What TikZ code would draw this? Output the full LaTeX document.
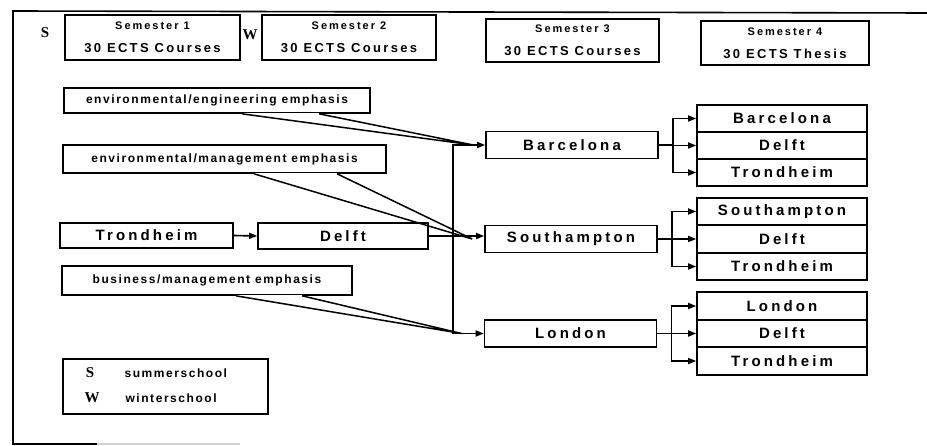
\documentclass[tikz,border=0pt]{standalone}
\usepackage{fontspec}
\setmainfont{Liberation Sans}
\newfontfamily\spacedsf[LetterSpace=21]{Liberation Sans}
\newfontfamily\semsf[LetterSpace=18]{Liberation Sans}
\newfontfamily\emphsf[LetterSpace=13]{Liberation Sans}
\newfontfamily\letterrm{Liberation Serif}
\usetikzlibrary{arrows.meta}

\begin{document}
\begin{tikzpicture}[x=1pt,y=-1pt,
  box/.style={draw,line width=1.7pt,inner sep=0pt},
  place/.style={box,minimum width=172pt,minimum height=27pt,
    font=\spacedsf\bfseries\fontsize{15}{17}\selectfont},
  sem/.style={box,align=center,font=\semsf\bfseries\fontsize{13}{23}\selectfont},
  emph/.style={box,font=\emphsf\bfseries\fontsize{12}{14}\selectfont},
  letter/.style={font=\letterrm\bfseries\fontsize{15}{17}\selectfont},
  arr/.style={line width=1.6pt,-{Triangle[length=8pt,width=6pt]}},
  tail/.style={line width=1.5pt}]
\useasboundingbox (0,0) rectangle (927,446);

% frame
\draw[line width=1.6pt] (927,13) -- (13,11) -- (13,444) -- (97,444);
\draw[gray!35,line width=1.6pt] (97,444) -- (240,444);

% semesters
\node[letter] (sumS) at (45,33) {S};
\node[sem,minimum width=175pt,minimum height=45pt] (sem1) at (152.5,37.5)
  {{\fontsize{11}{23}\selectfont Semester 1}\\30 ECTS Courses};
\node[letter] (winW) at (250,35) {W};
\node[sem,minimum width=174pt,minimum height=45pt] (sem2) at (349,37.5)
  {{\fontsize{11}{23}\selectfont Semester 2}\\30 ECTS Courses};
\node[sem,minimum width=173pt,minimum height=43pt] (sem3) at (572.5,40.5)
  {{\fontsize{11}{23}\selectfont Semester 3}\\30 ECTS Courses};
\node[sem,minimum width=168pt,minimum height=44pt] (sem4) at (785,43)
  {{\fontsize{11}{23}\selectfont Semester 4}\\30 ECTS Thesis};

% first year
\node[place,minimum width=173pt,minimum height=25pt] (trd) at (146.5,235.5) {Trondheim};
\node[place,minimum width=170pt,minimum height=26pt] (dlf) at (343,236) {Delft};

% emphasis
\node[emph,minimum width=306pt,minimum height=25pt] (eng) at (217,100.5) {environmental/engineering emphasis};
\node[emph,minimum width=323pt,minimum height=28pt] (mgt) at (224.5,159) {environmental/management emphasis};
\node[emph,minimum width=290pt,minimum height=29pt] (bus) at (207,280.5) {business/management emphasis};

% semester 3
\node[place] (bcn) at (572,145) {Barcelona};
\node[place] (sot) at (571,239) {Southampton};
\node[place] (lon) at (570.5,333.5) {London};

% semester 4
\node[place,minimum width=170pt] (bcnA) at (782,118.5) {Barcelona};
\node[place,minimum width=170pt] (bcnB) at (782,145.5) {Delft};
\node[place,minimum width=170pt] (bcnC) at (782,172.5) {Trondheim};
\node[place,minimum width=170pt,minimum height=27.5pt] (sotA) at (782,211.5) {Southampton};
\node[place,minimum width=170pt,minimum height=27.5pt] (sotB) at (782,239) {Delft};
\node[place,minimum width=170pt,minimum height=27.5pt] (sotC) at (782,266.5) {Trondheim};
\node[place,minimum width=170pt,minimum height=27.5pt] (lonA) at (782,306) {London};
\node[place,minimum width=170pt,minimum height=27.5pt] (lonB) at (782,333.5) {Delft};
\node[place,minimum width=170pt,minimum height=27.5pt] (lonC) at (782,361) {Trondheim};

% legend
\node[box,minimum width=205pt,minimum height=55pt] (lgd) at (165.5,386.5) {};
\node[letter] (lgdS) at (90,373) {S};
\node[letter] (lgdW) at (92,398) {W};
\node[font=\emphsf\bfseries\fontsize{12}{14}\selectfont,anchor=west] (lgdSt) at (121,373) {summerschool};
\node[font=\emphsf\bfseries\fontsize{12}{14}\selectfont,anchor=west] (lgdWt) at (122,398) {winterschool};

% pointers of the emphasis boxes
\draw[white,line width=2.6pt] ([xshift=179pt]eng.south west) -- ([xshift=256pt]eng.south west);
\draw[tail] ([xshift=179pt]eng.south west) -- ([xshift=-12pt]bcn.west) -- ([xshift=256pt]eng.south west);
\draw[white,line width=2.6pt] ([xshift=192pt]mgt.south west) -- ([xshift=275pt]mgt.south west);
\draw[tail] ([xshift=192pt]mgt.south west) -- ([xshift=-12pt]sot.west) -- ([xshift=275pt]mgt.south west);
\draw[white,line width=2.6pt] ([xshift=175pt]bus.south west) -- ([xshift=241pt]bus.south west);
\draw[tail] ([xshift=175pt]bus.south west) -- ([xshift=-22pt]lon.west) -- ([xshift=241pt]bus.south west);

% connectors
\draw[arr] (trd.east) -- (dlf.west);
\draw[arr] (dlf.east) -- (dlf.east -| sot.west);
\draw[arr] (dlf.east) -- ++(24,0) |- (bcn.west);
\draw[arr] (dlf.east) -- ++(24,0) |- (lon.west);

\draw[arr] (bcn.east) -- ++(14,0) |- (bcnA.west);
\draw[arr] (bcn.east) -- ++(14,0) |- (bcnB.west);
\draw[arr] (bcn.east) -- ++(14,0) |- (bcnC.west);
\draw[arr] (sot.east) -- ++(14,0) |- (sotA.west);
\draw[arr] (sot.east) -- ++(14,0) |- (sotB.west);
\draw[arr] (sot.east) -- ++(14,0) |- (sotC.west);
\draw[arr] (lon.east) -- ++(14,0) |- (lonA.west);
\draw[arr] (lon.east) -- ++(14,0) |- (lonB.west);
\draw[arr] (lon.east) -- ++(14,0) |- (lonC.west);
\end{tikzpicture}
\end{document}
